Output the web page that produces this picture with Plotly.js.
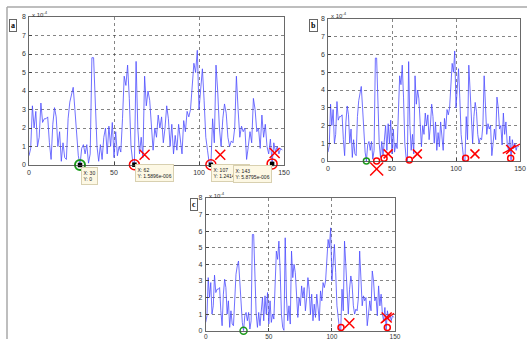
<!DOCTYPE html>
<html><head><meta charset="utf-8">
<script src="https://cdn.plot.ly/plotly-3.0.1.min.js"></script>
<style>html,body{margin:0;padding:0;background:#fff}#g{width:527px;height:339px}</style>
</head><body><div id="g"></div>
<script>
// signal values (units of 1e-4), x = 0..149
const xs = Array.from({length:150},(_, i)=>i);
const signal = [
0.5,0.9,3.2,2.0,2.9,1.0,1.5,3.35,2.3,2.5,
2.5,2.6,1.2,0.3,2.2,3.1,2.6,1.0,1.8,0.2,
1.2,0.4,0.3,2.5,3.4,3.9,4.2,3.0,1.5,0.5,
0.0,0.9,1.1,0.6,1.1,0.1,0.6,5.8,5.8,3.0,
1.0,0.2,1.1,0.3,1.5,2.0,0.6,2.1,1.0,2.3,
0.4,1.8,0.5,1.0,0.7,2.5,4.8,4.3,5.4,3.6,
1.0,0.2,0.016,5.6,2.0,0.6,1.5,0.4,4.8,3.2,
4.0,3.5,2.0,0.8,2.0,1.5,2.7,2.0,2.6,1.2,
2.0,3.2,2.5,1.0,2.2,0.6,1.6,0.8,2.2,1.5,
0.6,2.4,1.8,2.9,2.6,3.0,4.2,5.5,5.0,6.2,
3.0,4.0,5.2,3.5,1.5,0.8,0.1,0.012,2.5,1.2,
5.4,4.0,2.0,1.0,2.5,3.3,2.8,1.5,1.0,1.3,
1.2,2.0,4.8,3.0,1.5,2.1,1.8,2.0,0.3,1.0,
1.8,1.2,3.6,3.0,1.8,2.0,0.9,2.7,1.5,2.2,
1.0,0.6,1.4,0.06,1.2,0.7,1.0,0.6,0.9,0.8];

// markers
const aGreenX=[30], aGreenY=[0];
const aRedX=[62,107,143], aRedY=[0.016,0.012,0.06];
const aCrossX=[68,112.5,144.5], aCrossY=[0.55,0.55,0.65];
const aTipText=['X: 30<br>Y: 0','X: 62<br>Y: 1.5896e-006','X: 107<br>Y: 1.2414e-006','X: 143<br>Y: 5.8795e-006'];

const bGreenX=[30], bGreenY=[0];
const bRedX=[38,43.8,63.5,107.5,142.7], bRedY=[0,0.15,0.05,0.15,0.15];
const bCrossX=[47,69.8,114.8,142.7], bCrossY=[0.4,0.4,0.4,0.65];
const bBigCrossX=[38], bBigCrossY=[-0.45];
const bLineX=[136.5,150], bLineY=[0.43,0.96];

const cGreenX=[30], cGreenY=[0];
const cRedX=[107.2,143.9], cRedY=[0.2,0.2];
const cCrossX=[113.8,143.4], cCrossY=[0.45,0.8];
const cLineX=[138.6,149.2], cLineY=[0.45,1.05];

const W=527,H=339;
const px=x=>x/W, py=y=>1-y/H;
const RED='#ff0000', GREEN='#1a9a1a';

function axes(dom, ydom){
  const common={showgrid:true, gridcolor:'#333', griddash:'dot', gridwidth:0.6,
    showline:true, linecolor:'#444', linewidth:0.8, mirror:true,
    ticks:'inside', ticklen:3, tickcolor:'#444', zeroline:false, ticklabelstandoff:1,
    tickfont:{size:7, family:'Liberation Sans', color:'#333'}, fixedrange:true};
  return [Object.assign({domain:dom, range:[0,150], tickvals:[0,50,100,150]},common),
          Object.assign({domain:ydom, range:[0,8], tickvals:[0,1,2,3,4,5,6,7,8]},common)];
}
const [xa,ya]=axes([px(29),px(284)],[py(165),py(17)]);
const [xb,yb]=axes([px(328),px(520)],[py(161),py(19)]);
const [xc,yc]=axes([px(205.7),px(395)],[py(330.7),py(198)]);
xa.anchor='y'; ya.anchor='x'; xb.anchor='y2'; yb.anchor='x2'; xc.anchor='y3'; yc.anchor='x3';
xc.ticklabelstandoff=0; xc.tickfont={size:6.5,family:'Liberation Sans',color:'#333'};

const lineStyle={color:'#4d4dff', width:0.8};
const traces=[];
[['x','y'],['x2','y2'],['x3','y3']].forEach(([xr,yr])=>{
  traces.push({x:xs,y:signal,xaxis:xr,yaxis:yr,type:'scatter',mode:'lines',line:lineStyle,hoverinfo:'skip'});
});
function mk(x,y,xr,yr,symbol,size,color,w){
  return {x:x,y:y,xaxis:xr,yaxis:yr,mode:'markers',cliponaxis:false,
    marker:{symbol:symbol,size:size,color:color,line:{color:color,width:w}}};
}
// panel a markers
traces.push(mk(aGreenX,aGreenY,'x','y','circle-open',10,GREEN,2));
traces.push(mk(aRedX,aRedY,'x','y','circle-open',10,RED,1.5));
traces.push(mk(aGreenX.concat(aRedX),aGreenY.concat(aRedY),'x','y','square',4.5,'#000',0));
traces.push(mk(aCrossX,aCrossY,'x','y','x-thin-open',10,RED,1.5));
// panel b
traces.push(mk(bGreenX,bGreenY,'x2','y2','circle-open',6,GREEN,1.5));
traces.push(mk(bRedX,bRedY,'x2','y2','circle-open',6,RED,1.5));
traces.push(mk(bCrossX,bCrossY,'x2','y2','x-thin-open',9,RED,1.5));
traces.push({x:bLineX,y:bLineY,xaxis:'x2',yaxis:'y2',mode:'lines',cliponaxis:false,line:{color:RED,width:1.3}});
// panel c
traces.push(mk(cGreenX,cGreenY,'x3','y3','circle-open',7,GREEN,1.5));
traces.push(mk(cRedX,cRedY,'x3','y3','circle-open',6,RED,1.5));
traces.push(mk(cCrossX,cCrossY,'x3','y3','x-thin-open',10,RED,1.5));
traces.push({x:cLineX,y:cLineY,xaxis:'x3',yaxis:'y3',mode:'lines',cliponaxis:false,line:{color:RED,width:1.3}});

const tipPos=[[81,167],[135,164],[211,164],[233,165]];
const annotations=[];
aTipText.forEach((t,i)=>{
  annotations.push({xref:'paper',yref:'paper',x:px(tipPos[i][0]),y:py(tipPos[i][1]),xanchor:'left',yanchor:'top',
    text:t,showarrow:false,align:'left',font:{size:5,family:'Liberation Sans',color:'#222'},
    bgcolor:'#fdf8e4',bordercolor:'#d8d0b0',borderwidth:1,borderpad:1.5});
});
const labels=[['a',13,26],['b',313.5,26],['c',193.5,204]];
labels.forEach(([t,x,y])=>annotations.push({xref:'paper',yref:'paper',x:px(x),y:py(y),xanchor:'center',yanchor:'middle',
  text:'<b>'+t+'</b>',showarrow:false,font:{size:8,family:'Liberation Serif',color:'#000'},
  bgcolor:'#fff',bordercolor:'#666',borderwidth:1,borderpad:1}));
const exps=[[30,14],[329,15],[207,195]];
exps.forEach(([x,y])=>annotations.push({xref:'paper',yref:'paper',x:px(x),y:py(y),xanchor:'left',yanchor:'middle',
  text:'x 10<sup>-4</sup>',showarrow:false,font:{size:6,family:'Liberation Sans',color:'#333'}}));

const shapes=[
  {type:'line',xref:'paper',yref:'paper',x0:px(7),x1:1,y0:py(7),y1:py(7),line:{color:'#a8a8a8',width:1.5}},
  {type:'line',xref:'paper',yref:'paper',x0:px(7),x1:px(7),y0:py(7),y1:0,line:{color:'#a8a8a8',width:1.5}}
];

const layout={width:W,height:H,margin:{l:0,r:0,t:0,b:0},paper_bgcolor:'#fff',plot_bgcolor:'#fff',
  showlegend:false,xaxis:xa,yaxis:ya,xaxis2:xb,yaxis2:yb,xaxis3:xc,yaxis3:yc,annotations,shapes};
Plotly.newPlot('g',traces,layout,{staticPlot:true}).then(gd=>{
  // large cross drawn below panel b's axis, placed through the axis scale
  const xa2=gd._fullLayout.xaxis2, ya2=gd._fullLayout.yaxis2;
  const cx=xa2._offset+xa2.l2p(bBigCrossX[0]), cy=ya2._offset+ya2.l2p(bBigCrossY[0]);
  Plotly.relayout(gd,{shapes:shapes.concat([
    {type:'line',xref:'paper',yref:'paper',x0:px(cx-6.5),x1:px(cx+6.5),y0:py(cy-6.5),y1:py(cy+6.5),line:{color:RED,width:1.5}},
    {type:'line',xref:'paper',yref:'paper',x0:px(cx-6.5),x1:px(cx+6.5),y0:py(cy+6.5),y1:py(cy-6.5),line:{color:RED,width:1.5}}
  ])});
});
</script></body></html>
